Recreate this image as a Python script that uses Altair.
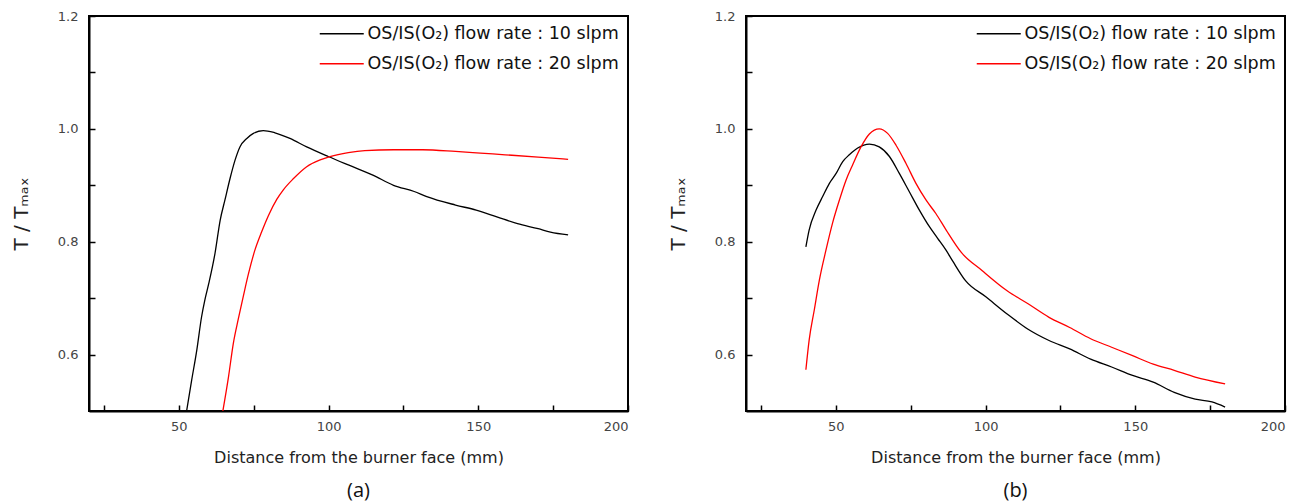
import altair as alt
import pandas as pd

SERIES = ["OS/IS(O\u2082) flow rate : 10 slpm", "OS/IS(O\u2082) flow rate : 20 slpm"]
COLORS = ["#000000", "#ff0000"]

# Panel (a)
A10_X = [52.6, 54.3, 56.0, 57.6, 58.7, 60.0, 62.1, 63.8, 65.4, 67.1, 68.8, 70.4, 72.7, 74.9, 78.2,
         82.1, 87.1, 92.7, 99.9, 106.6, 114.8, 121.7, 128.6, 132.8, 142.4, 149.3, 156.2, 163.1,
         170.0, 174.1, 180.0]
A10_Y = [0.500, 0.555, 0.608, 0.667, 0.697, 0.726, 0.780, 0.838, 0.874, 0.912, 0.945, 0.968, 0.983, 0.992, 0.997,
         0.993, 0.983, 0.968, 0.951, 0.936, 0.918, 0.900, 0.889, 0.880, 0.865, 0.856, 0.844, 0.832,
         0.823, 0.817, 0.812]
A20_X = [64.7, 66.6, 68.2, 69.9, 71.6, 73.2, 75.4, 77.7, 79.9, 82.7, 84.9, 88.3, 92.7, 97.2, 100.5,
         106.6, 112.1, 121.7, 131.4, 142.4, 150.7, 159.0, 170.0, 180.0]
A20_Y = [0.500, 0.561, 0.620, 0.664, 0.705, 0.742, 0.785, 0.818, 0.846, 0.875, 0.892, 0.912, 0.933, 0.945, 0.951,
         0.958, 0.9615, 0.963, 0.963, 0.960, 0.957, 0.954, 0.950, 0.946]

# Panel (b)
B10_X = [40.0, 41.1, 43.4, 45.6, 47.8, 50.1, 52.3, 54.5, 57.3, 61.2, 64.5, 67.9, 71.2, 74.5, 77.9,
         81.2, 84.0, 86.8, 89.1, 93.3, 100.2, 107.2, 114.2, 121.2, 128.1, 135.1, 142.1, 149.1,
         156.0, 163.0, 170.0, 175.6, 180.0]
B10_Y = [0.791, 0.821, 0.856, 0.880, 0.903, 0.921, 0.942, 0.954, 0.966, 0.973, 0.968, 0.951, 0.921, 0.889, 0.856,
         0.827, 0.806, 0.785, 0.765, 0.731, 0.702, 0.672, 0.645, 0.625, 0.610, 0.592, 0.578, 0.563,
         0.551, 0.533, 0.521, 0.516, 0.507]
B20_X = [40.0, 41.1, 42.8, 44.5, 46.7, 48.9, 51.2, 53.4, 55.6, 58.4, 61.2, 64.5, 67.3, 70.1, 73.4,
         76.8, 80.1, 83.4, 86.8, 91.9, 98.8, 107.2, 114.2, 121.2, 128.1, 135.1, 142.1, 149.1,
         156.0, 163.0, 170.0, 180.0]
B20_Y = [0.573, 0.626, 0.679, 0.732, 0.785, 0.833, 0.874, 0.909, 0.936, 0.968, 0.991, 1.000, 0.992, 0.971, 0.939,
         0.903, 0.874, 0.850, 0.821, 0.781, 0.749, 0.713, 0.690, 0.666, 0.648, 0.628, 0.613, 0.598,
         0.583, 0.572, 0.560, 0.548]

X_TICKS = [25, 50, 75, 100, 125, 150, 175, 200]
Y_TICKS = [0.6, 0.7, 0.8, 0.9, 1.0, 1.1, 1.2]


def frame(x10, y10, x20, y20):
    rows = []
    for i, (x, y) in enumerate(zip(x10, y10)):
        rows.append({"x": x, "y": y, "s": SERIES[0], "o": i})
    for i, (x, y) in enumerate(zip(x20, y20)):
        rows.append({"x": x, "y": y, "s": SERIES[1], "o": i})
    return pd.DataFrame(rows)


def panel(df, caption):
    x_axis = alt.Axis(
        values=X_TICKS,
        labelExpr="datum.value % 50 === 0 ? datum.label : ''",
        title="Distance from the burner face (mm)",
        tickSize={"expr": "-6"},
        labelPadding=15,
        titlePadding=16,
    )
    y_axis = alt.Axis(
        values=Y_TICKS,
        labelExpr="round(datum.value * 10) % 2 === 0 ? format(datum.value, '.1f') : ''",
        title="T / T\u2098\u2090\u2093",
        titleFontSize=20,
        tickSize={"expr": "-6"},
        labelPadding=17,
        titlePadding=26,
    )
    legend = alt.Legend(
        title=None,
        orient="top-right",
        offset=9,
        padding=0,
        symbolType="M-4,0H4",
        symbolSize=121,
        symbolStrokeWidth=1.3,
        labelFont="DejaVu Sans",
        labelFontSize=17.5,
        labelColor="#111111",
        labelOffset=17,
        labelLimit=400,
        rowPadding=11,
    )
    return alt.Chart(df).mark_line(strokeWidth=1.3, clip=True, interpolate="monotone").encode(
        x=alt.X("x:Q", scale=alt.Scale(domain=[20, 200], nice=False, zero=False), axis=x_axis),
        y=alt.Y("y:Q", scale=alt.Scale(domain=[0.5, 1.2], nice=False, zero=False), axis=y_axis),
        color=alt.Color("s:N", scale=alt.Scale(domain=SERIES, range=COLORS), legend=legend),
        order="o:Q",
    ).properties(
        width=539,
        height=395,
        title=alt.TitleParams(caption, orient="bottom", font="Open Sans", fontSize=20,
                              fontWeight="normal", color="#111111", offset=16),
    )


left = panel(frame(A10_X, A10_Y, A20_X, A20_Y), "(a)")
right = panel(frame(B10_X, B10_Y, B20_X, B20_Y), "(b)")

chart = alt.hconcat(left, right, spacing=37).resolve_scale(color="independent").resolve_legend(
    color="independent"
).properties(
    padding={"left": 2, "top": 1, "right": 2, "bottom": 0},
    background="white",
).configure_view(
    stroke="black", strokeWidth=2
).configure_axis(
    grid=False,
    domainColor="black",
    domainWidth=2,
    tickColor="black",
    tickWidth=1.5,
    labelFont="DejaVu Sans",
    labelFontSize=13,
    labelColor="#444444",
    titleFont="DejaVu Sans",
    titleFontSize=16,
    titleFontWeight="normal",
    titleColor="#222222",
)

chart.save("out.html", embed_options={"renderer": "svg", "actions": False})
